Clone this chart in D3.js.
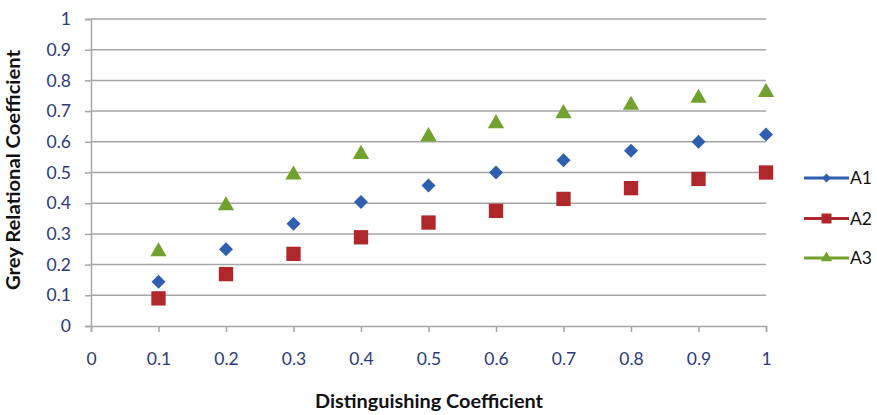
<!DOCTYPE html>
<html>
<head>
<meta charset="utf-8">
<script src="https://cdn.jsdelivr.net/npm/d3@7"></script>
<style>
  html, body { margin: 0; padding: 0; background: #fff; }
  svg { display: block; }
</style>
</head>
<body>
<svg id="chart" width="877" height="415"></svg>
<script>
// Distinguishing coefficient values on the x axis
const xValues = [0.1, 0.2, 0.3, 0.4, 0.5, 0.6, 0.7, 0.8, 0.9, 1.0];
// Grey relational coefficient for each alternative
const a1 = [0.144, 0.25, 0.333, 0.404, 0.458, 0.5, 0.54, 0.571, 0.6, 0.624];
const a2 = [0.09, 0.169, 0.235, 0.289, 0.337, 0.375, 0.414, 0.449, 0.479, 0.5];
const a3 = [0.25, 0.4, 0.5, 0.567, 0.625, 0.667, 0.7, 0.727, 0.75, 0.769];
const seriesNames = ["A1", "A2", "A3"];
const xTicks = [0, 0.1, 0.2, 0.3, 0.4, 0.5, 0.6, 0.7, 0.8, 0.9, 1];
const yTicks = [0, 0.1, 0.2, 0.3, 0.4, 0.5, 0.6, 0.7, 0.8, 0.9, 1];

const series = [
  { name: seriesNames[0], values: a1, color: "#2f5fae", shape: d3.symbolDiamond2, size: 125, legendSize: 50 },
  { name: seriesNames[1], values: a2, color: "#b0272b", shape: d3.symbolSquare, size: 205, legendSize: 100 },
  { name: seriesNames[2], values: a3, color: "#72a22e", shape: d3.symbolTriangle, size: 115, legendSize: 55 }
];

const svg = d3.select("#chart");
const plot = { left: 91, right: 766, top: 19, bottom: 326 };

const x = d3.scaleLinear().domain([0, 1]).range([plot.left, plot.right]);
const y = d3.scaleLinear().domain([0, 1]).range([plot.bottom, plot.top]);

const fmt = d => d === 0 || d === 1 ? String(d) : d3.format(".1f")(d);
const tickFont = "Lato, 'Open Sans', sans-serif";
const axisGrey = "#a6a6a6";

// Horizontal gridlines
svg.append("g")
  .selectAll("line")
  .data(yTicks.filter(d => d > 0))
  .join("line")
  .attr("x1", plot.left).attr("x2", plot.right)
  .attr("y1", d => y(d)).attr("y2", d => y(d))
  .attr("stroke", axisGrey).attr("stroke-width", 1.5);

// Y axis
const yAxis = svg.append("g")
  .attr("transform", `translate(${plot.left},0)`)
  .call(d3.axisLeft(y).tickValues(yTicks).tickFormat(fmt).tickSize(6).tickPadding(14));
yAxis.select(".domain").attr("stroke", axisGrey).attr("stroke-width", 1.5);
yAxis.selectAll(".tick line").attr("stroke", axisGrey).attr("stroke-width", 1.5);
yAxis.selectAll(".tick text")
  .attr("fill", "#2b3a7a").style("font-family", tickFont).style("font-size", "17.5px");

// X axis
const xAxis = svg.append("g")
  .attr("transform", `translate(0,${plot.bottom})`)
  .call(d3.axisBottom(x).tickValues(xTicks).tickFormat(fmt).tickSize(6).tickPadding(21));
xAxis.select(".domain").attr("stroke", axisGrey).attr("stroke-width", 1.5);
xAxis.selectAll(".tick line").attr("stroke", axisGrey).attr("stroke-width", 1.5);
xAxis.selectAll(".tick text")
  .attr("fill", "#2b3a7a").style("font-family", tickFont).style("font-size", "17.5px");

// Markers (triangles shifted so the box, not the centroid, sits on the value)
series.forEach(s => {
  const dy = s.shape === d3.symbolTriangle ? -Math.sqrt(s.size / (3 * Math.sqrt(3))) * 0.5 : 0;
  svg.append("g")
    .selectAll("path")
    .data(s.values.map((v, i) => [xValues[i], v]))
    .join("path")
    .attr("transform", d => `translate(${x(d[0])},${y(d[1]) - dy})`)
    .attr("d", d3.symbol().type(s.shape).size(s.size))
    .attr("fill", s.color);
});

// Axis titles
svg.append("text")
  .attr("x", 429).attr("y", 408)
  .attr("text-anchor", "middle")
  .attr("textLength", 228).attr("lengthAdjust", "spacingAndGlyphs")
  .style("font-family", tickFont).style("font-weight", "bold").style("font-size", "18px")
  .attr("fill", "#111")
  .text("Distinguishing Coefficient");

svg.append("text")
  .attr("transform", "translate(20,170) rotate(-90)")
  .attr("text-anchor", "middle")
  .attr("textLength", 240).attr("lengthAdjust", "spacingAndGlyphs")
  .style("font-family", tickFont).style("font-weight", "bold").style("font-size", "18px")
  .attr("fill", "#111")
  .text("Grey Relational Coefficient");

// Legend
const legend = svg.append("g");
const legendY = [178, 218.5, 258];
series.forEach((s, i) => {
  const ly = legendY[i];
  legend.append("line")
    .attr("x1", 804).attr("x2", 849).attr("y1", ly).attr("y2", ly)
    .attr("stroke", s.color).attr("stroke-width", 3);
  legend.append("path")
    .attr("transform", `translate(826.5,${ly})`)
    .attr("d", d3.symbol().type(s.shape).size(s.legendSize))
    .attr("fill", s.color);
  legend.append("text")
    .attr("x", 850).attr("y", ly).attr("dy", "0.36em")
    .style("font-family", tickFont).style("font-size", "17.5px")
    .attr("fill", "#111")
    .text(s.name);
});
</script>
</body>
</html>
